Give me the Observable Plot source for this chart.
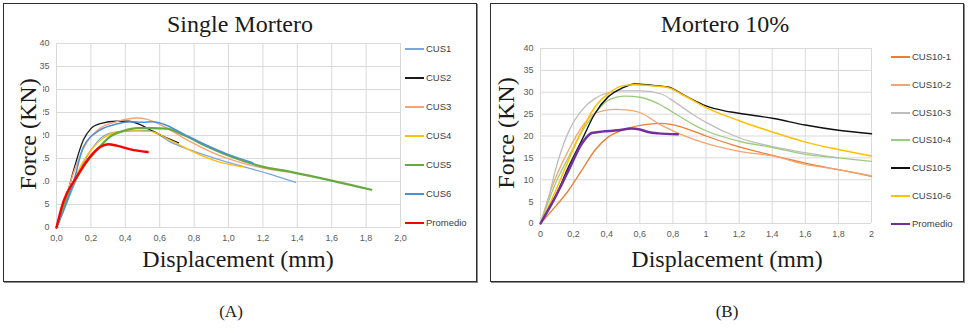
<!DOCTYPE html>
<html><head><meta charset="utf-8">
<script src="https://cdn.jsdelivr.net/npm/d3@7"></script>
<script src="https://cdn.jsdelivr.net/npm/@observablehq/plot@0.6"></script>
<style>
html,body{margin:0;padding:0;background:#fff;}
#root{position:relative;width:977px;height:333px;overflow:hidden;font-family:"Liberation Serif","DejaVu Serif",serif;}
.panel{position:absolute;top:3px;width:474px;height:279px;box-sizing:border-box;border:1px solid #2e2e2e;box-shadow:1px 1px 0 #8a8a8a;background:#fff;}
.panel svg{position:absolute;left:0;top:0;}
.t{position:absolute;transform:translate(-50%,-50%);white-space:nowrap;color:#1a1a1a;line-height:1;}
.title{font-size:24px;}
.xl{font-size:24px;}
.yl{font-size:24px;transform:translate(-50%,-50%) rotate(-90deg);background:#fff;padding:3px 2px;}
.cap{font-size:17px;}
.lg{position:absolute;font-family:"Liberation Sans",sans-serif;font-size:9.5px;color:#404040;white-space:nowrap;line-height:1;}
.ll{position:absolute;width:19px;}
</style></head>
<body><div id="root"></div>
<script>
// ---------- data: [displacement (mm), force (kN)] ----------
const seriesA = ["CUS1","CUS2","CUS3","CUS4","CUS5","CUS6","Promedio"];
const colorsA = ["#7ba7df","#1a1a1a","#f4a477","#ffc000","#6aa842","#4a90d9","#ff0000"];
const widthsA = [1.3,1.3,1.4,1.4,2.2,1.5,2.4];
const cus1 = [[0,0],[0.05,4.5],[0.1,9],[0.15,13.5],[0.2,16.8],[0.27,19.8],[0.35,20.8],[0.45,21],[0.545,21.1],[0.66,18.6],[0.78,16.8],[0.94,14.8],[1.09,13.2],[1.25,11.5],[1.39,9.8]];
const cus2 = [[0,0],[0.05,5.5],[0.1,12.5],[0.156,19],[0.2,21.5],[0.254,22.6],[0.35,23.1],[0.42,23.1],[0.49,22.3],[0.546,21.2],[0.62,19.8],[0.71,18.4]];
const cus3 = [[0,0],[0.05,6],[0.1,12],[0.176,18.5],[0.254,21.6],[0.35,23.0],[0.47,23.8],[0.527,23.5],[0.605,22.3],[0.66,21.2],[0.78,18.6],[0.9,16.4],[1.01,14.8],[1.13,13.5],[1.25,12.6],[1.34,12.1]];
const cus4 = [[0,0],[0.05,5],[0.1,10],[0.15,14],[0.215,17.5],[0.27,19.4],[0.35,20.7],[0.45,21.0],[0.546,20.9],[0.66,19.0],[0.84,15.7],[0.97,14.0],[1.08,13.2]];
const cus5 = [[0,0],[0.078,8],[0.156,13.2],[0.234,16.8],[0.31,19.7],[0.39,21],[0.47,21.6],[0.55,21.6],[0.64,21.5],[0.74,20.1],[0.86,17.9],[1.01,15.5],[1.19,13.3],[1.36,12.1],[1.6,10.2],[1.83,8.2]];
const cus6 = [[0,0],[0.05,4.5],[0.1,10],[0.156,17.5],[0.254,21.2],[0.35,22.5],[0.43,23.0],[0.5,22.9],[0.56,23.0],[0.62,22.5],[0.74,20.3],[0.86,18.1],[0.99,16.0],[1.14,14.1]];
const promA = [[0,0],[0.039,5.5],[0.117,11],[0.195,15.4],[0.254,17.5],[0.30,18.1],[0.35,17.8],[0.43,17.0],[0.53,16.4]];

const seriesB = ["CUS10-1","CUS10-2","CUS10-3","CUS10-4","CUS10-5","CUS10-6","Promedio"];
const colorsB = ["#ed7d31","#f4a56f","#bdbdbd","#9dcb80","#111111","#ffc000","#7030a0"];
const widthsB = [1.3,1.3,1.3,1.3,1.4,1.5,2.5];
const c101 = [[0,0],[0.07,3],[0.17,7.6],[0.25,12.2],[0.33,16.8],[0.41,19.8],[0.49,21.3],[0.61,22.5],[0.73,22.9],[0.81,22.5],[0.91,21.3],[1.0,20.0],[1.2,17.5],[1.41,15.5],[1.6,13.8],[1.8,12.3],[2.0,10.8]];
const c102 = [[0,0],[0.07,8.4],[0.17,16.8],[0.25,22.1],[0.33,25.2],[0.45,26.1],[0.53,25.9],[0.61,25.2],[0.71,22.9],[0.81,21],[0.906,19.5],[1.0,18.3],[1.2,16.5],[1.41,15.4],[1.6,13.5],[1.8,12.3],[2.0,10.9]];
const c103 = [[0,0],[0.05,6.1],[0.09,12.2],[0.17,21],[0.25,25.9],[0.33,28.6],[0.41,29.9],[0.49,30.3],[0.61,30.3],[0.73,29.6],[0.81,27.8],[0.91,25.2],[1.0,23.1],[1.2,19.6],[1.41,17.5],[1.6,16.2],[1.8,15.0]];
const c104 = [[0,0],[0.09,9.1],[0.17,15.2],[0.25,21],[0.33,25.2],[0.41,28.2],[0.51,29.1],[0.61,28.8],[0.71,27.4],[0.81,25.2],[0.91,22.9],[1.0,21.2],[1.2,18.8],[1.41,17.3],[1.6,15.8],[1.8,15.0],[2.0,14.2]];
const c105 = [[0,0],[0.09,6.1],[0.17,13],[0.25,19.1],[0.33,25.2],[0.41,29],[0.49,30.9],[0.57,31.9],[0.67,31.6],[0.77,31.2],[0.87,29.3],[1.0,26.9],[1.106,25.8],[1.2,25.2],[1.41,24.0],[1.6,22.5],[1.8,21.3],[2.0,20.5]];
const c106 = [[0,0],[0.08,6.5],[0.17,14.5],[0.25,21.3],[0.33,26.7],[0.41,29.7],[0.49,31.4],[0.57,31.7],[0.67,31.5],[0.77,31.1],[0.87,29.2],[1.0,26.5],[1.2,23.5],[1.41,20.8],[1.6,18.6],[1.8,16.9],[2.0,15.4]];
const promB = [[0,0],[0.09,6.1],[0.17,12.2],[0.25,18.3],[0.31,20.7],[0.37,21],[0.47,21.3],[0.55,21.7],[0.6,21.5],[0.65,20.9],[0.71,20.6],[0.83,20.4]];

const xTicks = [0,0.2,0.4,0.6,0.8,1.0,1.2,1.4,1.6,1.8,2.0];
const xTickLabelsA = ["0,0","0,2","0,4","0,6","0,8","1,0","1,2","1,4","1,6","1,8","2,0"];
const xTickLabelsB = ["0","0,2","0,4","0,6","0,8","1","1,2","1,4","1,6","1,8","2"];
const yTicks = [0,5,10,15,20,25,30,35,40];

const titles = ["Single Mortero","Mortero 10%"];
const xLabel = "Displacement (mm)";
const yLabel = "Force (KN)";
const captions = ["(A)","(B)"];

// ---------- drawing ----------
const root = document.getElementById("root");
function el(tag, cls, style, text){
  const e = document.createElement(tag);
  if (cls) e.className = cls;
  Object.assign(e.style, style);
  if (text != null) e.textContent = text;
  root.appendChild(e);
  return e;
}
function lab(labels){ return d => labels[xTicks.findIndex(t => Math.abs(t - d) < 1e-9)]; }

function makeChart(cfg){
  const panel = el("div","panel",{left: cfg.left + "px"});
  const lines = cfg.data.map((pts,i) => Plot.line(pts, {x: d => d[0], y: d => d[1], stroke: cfg.colors[i], strokeWidth: cfg.widths[i], curve: "monotone-x"}));
  const svg = Plot.plot({
    width: 472, height: 277,
    marginLeft: cfg.ml, marginRight: cfg.mr, marginTop: cfg.mt, marginBottom: cfg.mb,
    style: {background: "transparent", fontFamily: "'Liberation Sans', sans-serif", fontSize: "9px", color: "#595959", overflow: "visible"},
    x: {domain: [0, 2]},
    y: {domain: [0, 40]},
    marks: [
      Plot.gridX(xTicks, {stroke: "#d9d9d9", strokeOpacity: 1, strokeWidth: 1}),
      Plot.gridY(yTicks, {stroke: "#d9d9d9", strokeOpacity: 1, strokeWidth: 1}),
      Plot.axisX(xTicks, {tickSize: 0, tickPadding: 7, tickFormat: lab(cfg.xLabels), label: null, fill: "#595959"}),
      Plot.axisY(yTicks, {tickSize: 0, tickPadding: 7, label: null, fill: "#595959"}),
      ...lines
    ]
  });
  panel.appendChild(svg);
  el("div","t title",{left: cfg.titleX + "px", top: "24px"}, cfg.title);
  el("div","t xl",{left: cfg.xlX + "px", top: "259px"}, xLabel);
  el("div","t yl",{left: cfg.ylX + "px", top: cfg.ylY + "px"}, yLabel);
  el("div","t cap",{left: cfg.capX + "px", top: "311px"}, cfg.caption);
  cfg.names.forEach((n,i) => {
    const y = cfg.legY[i];
    el("div","ll",{left: cfg.legX + "px", top: (y - cfg.widths[i]/2) + "px", height: cfg.widths[i] + "px", background: cfg.colors[i]});
    el("div","lg",{left: (cfg.legX + 21) + "px", top: (y - 5) + "px"}, n);
  });
}

makeChart({
  left: 3, ml: 52, mr: 76, mt: 39, mb: 54,
  data: [cus1,cus2,cus3,cus4,cus5,cus6,promA], colors: colorsA, widths: widthsA, names: seriesA,
  xLabels: xTickLabelsA, title: titles[0], caption: captions[0],
  titleX: 240, xlX: 238, ylX: 28, ylY: 134, capX: 231,
  legX: 405, legY: [49,78,107,136,165,194,223]
});
makeChart({
  left: 490, ml: 49, mr: 92, mt: 44, mb: 58,
  data: [c101,c102,c103,c104,c105,c106,promB], colors: colorsB, widths: widthsB, names: seriesB,
  xLabels: xTickLabelsB, title: titles[1], caption: captions[1],
  titleX: 725, xlX: 727, ylX: 506, ylY: 133, capX: 727,
  legX: 891, legY: [57,85,113,140,168,196,224]
});
</script>
</body></html>
